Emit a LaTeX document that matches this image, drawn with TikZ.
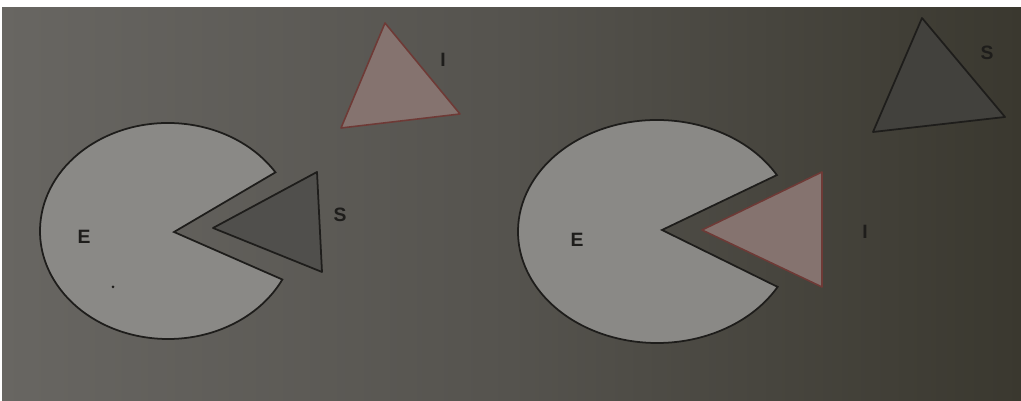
\documentclass[tikz,border=0pt]{standalone}
\usepackage{fontspec}
\setmainfont{Liberation Sans}
\usetikzlibrary{calc}
\definecolor{bgL}{HTML}{686662}
\definecolor{bgM}{HTML}{55534E}
\definecolor{bgR}{HTML}{3A382F}
\definecolor{enz}{HTML}{8A8986}
\definecolor{subfill}{HTML}{504F4C}
\definecolor{subfillB}{HTML}{42413D}
\definecolor{inhfill}{HTML}{85736F}
\definecolor{inhline}{HTML}{6E3A36}
\definecolor{outline}{HTML}{1E1D1B}
\begin{document}
\begin{tikzpicture}[x=0.02cm,y=0.02cm,
  enzyme/.style={fill=enz,draw=outline,line width=1pt,line join=miter},
  substrate/.style={fill=subfill,draw=outline,line width=1pt,line join=round},
  inhibitor/.style={fill=inhfill,draw=inhline,line width=0.9pt,line join=round},
  lbl/.style={font=\fontsize{11}{13}\selectfont\bfseries,text=outline,inner sep=0pt}]
\useasboundingbox (0,0) rectangle (1021,401);
% photo background
\shade[left color=bgL,right color=bgM] (0,0) rectangle (511,394);
\shade[left color=bgM,right color=bgR] (510,0) rectangle (1021,394);
\fill[white] (0,394) rectangle (1021,401);
\fill[white] (0,0) rectangle (2,394);
% ---- left: enzyme with substrate ----
\coordinate (vL) at (174,169);
\draw[enzyme] (vL) -- ($(168,170)+(32.9:128 and 108)$) arc[start angle=32.9,end angle=333.3,x radius=128,y radius=108] -- cycle;
\fill[outline] (113,114) circle (1.5);
\draw[substrate] (213,173) -- (317,229) -- (322,129) -- cycle;
\node[lbl] (E1) at (84,164) {E};
\node[lbl] (S1) at (340,186) {S};
% top inhibitor
\draw[inhibitor] (385,378) -- (460,287) -- (341,273) -- cycle;
\node[lbl] (I1) at (443,341) {I};
% ---- right: enzyme with inhibitor ----
\coordinate (vR) at (662,171);
\draw[enzyme] (vR) -- ($(657,169.5)+(30.4:139 and 111.5)$) arc[start angle=30.4,end angle=330.2,x radius=139,y radius=111.5] -- cycle;
\draw[inhibitor] (702,171) -- (822,229) -- (822,114) -- cycle;
\node[lbl] (E2) at (577,161) {E};
\node[lbl] (I2) at (865,169) {I};
% top-right substrate
\draw[substrate,fill=subfillB] (922,383) -- (1005,284) -- (873,269) -- cycle;
\node[lbl] (S2) at (987,348) {S};
\end{tikzpicture}
\end{document}
